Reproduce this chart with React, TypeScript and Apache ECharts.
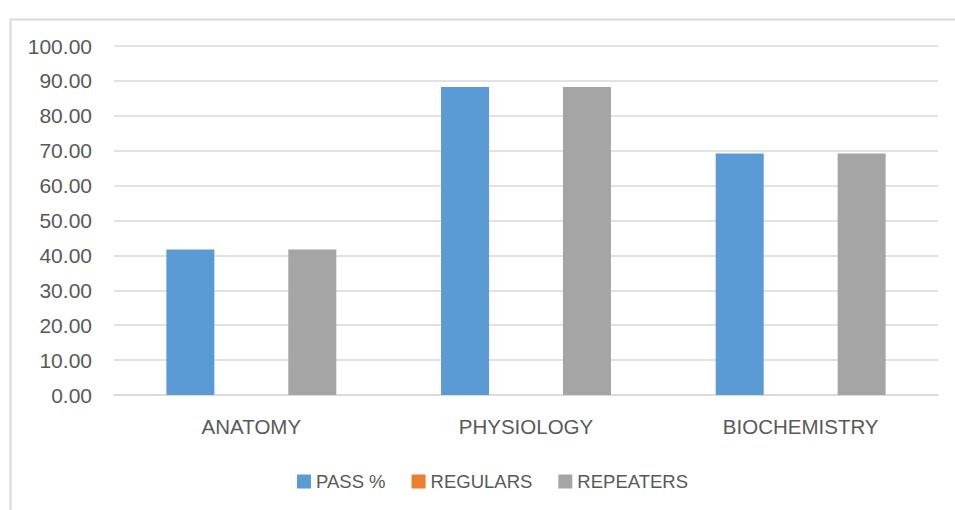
import React, { useEffect, useRef } from "react";
import * as echarts from "echarts";

const categories = ["ANATOMY", "PHYSIOLOGY", "BIOCHEMISTRY"];
const seriesNames = ["PASS %", "REGULARS", "REPEATERS"];
const passValues = [41.67, 88.24, 69.23];
const regularsValues = [0, 0, 0];
const repeatersValues = [41.67, 88.24, 69.23];
const colors = ["#5b9bd5", "#ed7d31", "#a5a5a5"];

export default function App() {
  const ref = useRef<HTMLDivElement>(null);
  useEffect(() => {
    if (!ref.current) return;
    const chart = echarts.init(ref.current, undefined, { renderer: "svg" });
    const font = "'Liberation Sans', Arial, sans-serif";
    const values = [passValues, regularsValues, repeatersValues];
    chart.setOption({
      animation: false,
      backgroundColor: "#ffffff",
      color: colors,
      graphic: [
        {
          type: "rect",
          left: 8,
          top: 17,
          shape: { width: 1100, height: 700 },
          style: { fill: "none", stroke: "#d9d9d9", lineWidth: 2 },
          silent: true,
          z: -1,
        },
      ],
      grid: { left: 114, right: 17, top: 46, bottom: 115, containLabel: false },
      legend: {
        data: seriesNames,
        left: 292,
        top: 467,
        itemWidth: 14,
        itemHeight: 14,
        itemGap: 26,
        icon: "rect",
        textStyle: { fontSize: 18.5, color: "#595959", fontFamily: font },
      },
      xAxis: {
        type: "category",
        data: categories,
        axisLine: { show: true, lineStyle: { color: "#d9d9d9", width: 1.5 } },
        axisTick: { show: false },
        axisLabel: { fontSize: 20.5, color: "#595959", fontFamily: font, margin: 21 },
      },
      yAxis: {
        type: "value",
        min: 0,
        max: 100,
        interval: 10,
        axisLine: { show: false },
        axisTick: { show: false },
        splitLine: { lineStyle: { color: "#d9d9d9", width: 1.5 } },
        axisLabel: {
          fontSize: 21,
          color: "#595959",
          fontFamily: font,
          margin: 22,
          formatter: (v: number) => v.toFixed(2),
        },
      },
      series: seriesNames.map((name, i) => ({
        name,
        type: "bar",
        data: values[i],
        barWidth: 48,
        barGap: "27%",
        itemStyle: { color: colors[i] },
      })),
    });
    return () => chart.dispose();
  }, []);
  return <div ref={ref} style={{ width: 955, height: 510, position: "absolute", left: 0, top: 0 }} />;
}
